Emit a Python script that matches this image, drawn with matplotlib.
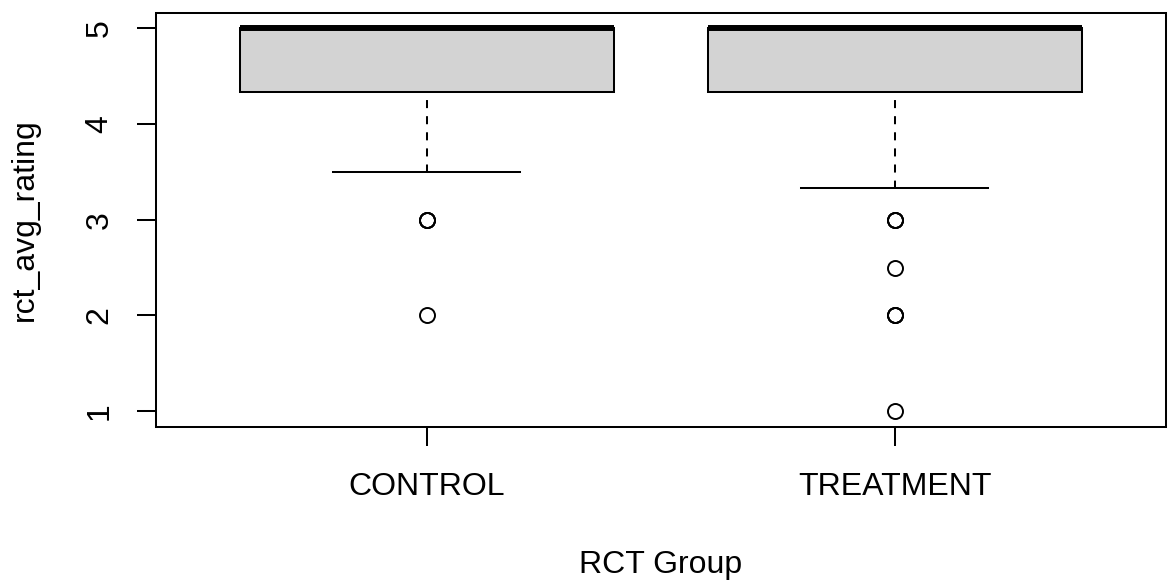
import matplotlib

matplotlib.use("Agg")
import matplotlib.pyplot as plt

# rct_avg_rating summary per RCT group
groups = ["CONTROL", "TREATMENT"]
q1 = [4.333, 4.333]
median = [5.0, 5.0]
q3 = [5.0, 5.0]
whisker_low = [3.5, 3.333]
whisker_high = [5.0, 5.0]
# repeated values are tied ratings drawn on top of each other
outliers = [
    [3.0, 3.0, 3.0, 2.0],
    [3.0, 3.0, 3.0, 2.5, 2.0, 2.0, 2.0, 1.0],
]
yticks = [1, 2, 3, 4, 5]

plt.rcParams["font.family"] = ["Liberation Sans", "DejaVu Sans"]
FS = 23
LW = 1.45

stats = []
for i, name in enumerate(groups):
    stats.append(
        {
            "label": name,
            "q1": q1[i],
            "med": median[i],
            "q3": q3[i],
            "whislo": whisker_low[i],
            "whishi": whisker_high[i],
            "fliers": outliers[i],
        }
    )

fig = plt.figure(figsize=(11.7, 5.8), dpi=100)
ax = fig.add_axes([0.133, 0.2645, 0.8635, 0.7135])

ax.bxp(
    stats,
    positions=[1, 2],
    widths=0.8,
    capwidths=0.4,
    patch_artist=True,
    boxprops=dict(facecolor="#d3d3d3", edgecolor="black", linewidth=LW),
    medianprops=dict(color="black", linewidth=4.3, solid_capstyle="butt"),
    whiskerprops=dict(color="black", linewidth=LW, linestyle=(4, (4, 4))),
    capprops=dict(color="black", linewidth=LW),
    flierprops=dict(
        marker="o",
        markersize=10.8,
        markerfacecolor="none",
        markeredgecolor="black",
        markeredgewidth=1.4,
        linestyle="none",
    ),
)

ax.set_xlim(0.42, 2.58)
ax.set_ylim(0.84, 5.16)

for sp in ax.spines.values():
    sp.set_linewidth(LW)

ax.set_yticks(yticks)
ax.set_yticklabels([str(v) for v in yticks], rotation=90, va="center")
ax.set_xticks([1, 2])
ax.set_xticklabels(groups)
ax.tick_params(axis="both", direction="out", length=13.5, width=LW, labelsize=FS)
ax.tick_params(axis="x", pad=19)
ax.tick_params(axis="y", pad=16)

ax.set_xlabel("RCT Group", fontsize=FS, labelpad=35)
ax.set_ylabel("rct_avg_rating", fontsize=FS, labelpad=32)

fig.savefig("out.png", dpi=100, facecolor="white")
